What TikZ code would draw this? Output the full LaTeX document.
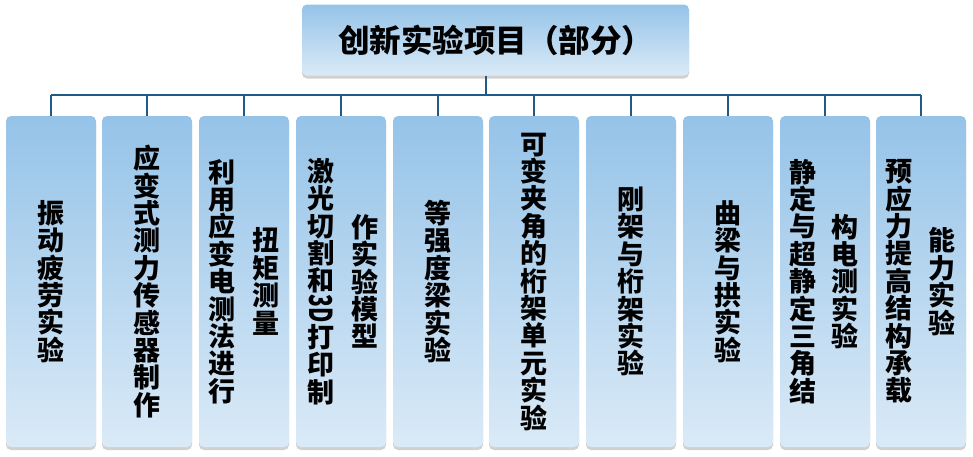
\documentclass[tikz,border=0pt]{standalone}
\usepackage{fontspec}
\newfontfamily\cjk{Noto Sans CJK SC}
\usetikzlibrary{positioning,shadows}
\definecolor{boxtop}{HTML}{95C3E8}
\definecolor{boxbot}{HTML}{DAEAF7}
\definecolor{linkblue}{HTML}{1F5B87}

\begin{document}
\begin{tikzpicture}[x=1pt,y=-1pt,
    item/.style={rounded corners=5pt,top color=boxtop,bottom color=boxbot,draw=none,
      drop shadow={shadow xshift=0pt,shadow yshift=-3pt,opacity=.18,fill=black},
      minimum width=90pt,minimum height=331pt,inner sep=0pt},
    title/.style={item,minimum width=387pt,minimum height=71pt,
      font=\cjk\bfseries\fontsize{31.5}{36}\selectfont},
    vtxt/.style={font=\cjk\bfseries\fontsize{27}{27.4}\selectfont,align=center,inner sep=0pt},
    link/.style={linkblue,line width=2.5pt}]
        \useasboundingbox (0,0) rectangle (973,456);
        \node[title] (root) at (495.5,40) {创新实验项目（部分）};
        \node[item] (b1) at (51,281.5) {};
        \node[item] (b2) at (147,281.5) {};
        \node[item] (b3) at (244,281.5) {};
        \node[item] (b4) at (341,281.5) {};
        \node[item] (b5) at (438,281.5) {};
        \node[item] (b6) at (534,281.5) {};
        \node[item] (b7) at (631,281.5) {};
        \node[item] (b8) at (728,281.5) {};
        \node[item] (b9) at (825,281.5) {};
        \node[item] (b10) at (921,281.5) {};
        % labels, one column of characters each
        \node[vtxt] (t1) at (b1) {振\\动\\疲\\劳\\实\\验};
        \node[vtxt] (t2) at (b2) {应\\变\\式\\测\\力\\传\\感\\器\\制\\作};
        \node[vtxt] (t3a) at ([xshift=-22pt]b3.center) {利\\用\\应\\变\\电\\测\\法\\进\\行};
        \node[vtxt] (t3b) at ([xshift=22pt]b3.center) {扭\\矩\\测\\量};
        \node[vtxt] (t4a) at ([xshift=-20pt]b4.center) {激\\光\\切\\割\\和\\\rotatebox[origin=c]{-90}{\scalebox{1}[1.5]{\fontsize{21}{21}\selectfont 3D}}\\打\\印\\制};
        \node[vtxt] (t4b) at ([xshift=24pt]b4.center) {作\\实\\验\\模\\型};
        \node[vtxt] (t5) at (b5) {等\\强\\度\\梁\\实\\验};
        \node[vtxt] (t6) at (b6) {可\\变\\夹\\角\\的\\桁\\架\\单\\元\\实\\验};
        \node[vtxt] (t7) at (b7) {刚\\架\\与\\桁\\架\\实\\验};
        \node[vtxt] (t8) at (b8) {曲\\梁\\与\\拱\\实\\验};
        \node[vtxt] (t9a) at ([xshift=-22pt]b9.center) {静\\定\\与\\超\\静\\定\\三\\角\\结};
        \node[vtxt] (t9b) at ([xshift=20pt]b9.center) {构\\电\\测\\实\\验};
        \node[vtxt] (t10a) at ([xshift=-22pt]b10.center) {预\\应\\力\\提\\高\\结\\构\\承\\载};
        \node[vtxt] (t10b) at ([xshift=21pt]b10.center) {能\\力\\实\\验};
        % tree lines
        \coordinate (stem) at (486,95);
        \draw[link] (root.south -| stem) -- (stem);
        \draw[link] (b1.north |- stem) -- (b10.north |- stem);
        \draw[link] (b1.north |- stem) -- (b1.north);
        \draw[link] (b2.north |- stem) -- (b2.north);
        \draw[link] (b3.north |- stem) -- (b3.north);
        \draw[link] (b4.north |- stem) -- (b4.north);
        \draw[link] (b5.north |- stem) -- (b5.north);
        \draw[link] (b6.north |- stem) -- (b6.north);
        \draw[link] (b7.north |- stem) -- (b7.north);
        \draw[link] (b8.north |- stem) -- (b8.north);
        \draw[link] (b9.north |- stem) -- (b9.north);
        \draw[link] (b10.north |- stem) -- (b10.north);
    \end{tikzpicture}
\end{document}
